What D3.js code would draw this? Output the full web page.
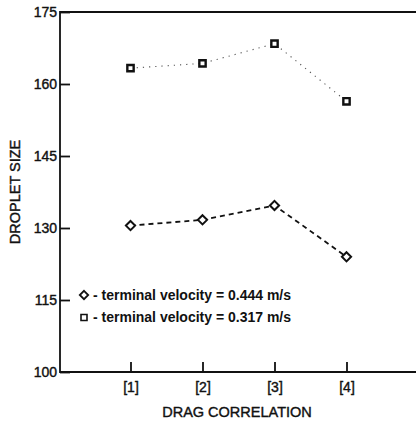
<!DOCTYPE html>
<html><head><meta charset="utf-8">
<script src="https://cdn.jsdelivr.net/npm/d3@7"></script>
<style>
body{margin:0;background:#fff;}
text{font-family:"Liberation Sans",Arial,Helvetica,sans-serif;fill:#111;}
text.heavy{stroke:#111;stroke-width:0.4px;}
</style></head>
<body><svg id="c" width="416" height="425"></svg>
<script>
const categories = [1, 2, 3, 4];
const categoryLabels = ["[1]", "[2]", "[3]", "[4]"];
const series444 = [130.5, 131.7, 134.7, 124.0];  // diamonds, terminal velocity 0.444 m/s
const series317 = [163.3, 164.3, 168.4, 156.4];  // squares, terminal velocity 0.317 m/s
const yTicks = [100, 115, 130, 145, 160, 175];
const legendLabels = ["- terminal velocity = 0.444 m/s", "- terminal velocity = 0.317 m/s"];
const xTitle = "DRAG CORRELATION";
const yTitle = "DROPLET SIZE";

const svg = d3.select("#c");
const mLeft = 60, mTop = 12, mBottom = 372, mRight = 416;
const x = d3.scaleLinear().domain([0, 5]).range([58.5, 418.5]);
const y = d3.scaleLinear().domain([100, 175]).range([mBottom, mTop]);

// frame
svg.append("path")
  .attr("d", `M${mRight},${mTop}H${mLeft}V${mBottom}H${mRight}`)
  .attr("fill", "none").attr("stroke", "#111").attr("stroke-width", 1.8);

// y axis
const yAxis = svg.append("g").attr("transform", `translate(${mLeft},0)`)
  .call(d3.axisLeft(y).tickValues(yTicks).tickSizeInner(-10).tickSizeOuter(0).tickPadding(3).tickFormat(d3.format("d")));
yAxis.select(".domain").remove();
yAxis.selectAll("line").attr("stroke", "#111").attr("stroke-width", 1.8);
yAxis.selectAll("text").attr("class", "heavy").attr("font-size", 14).attr("fill", "#111").attr("font-family", null);

// x axis
const xAxis = svg.append("g").attr("transform", `translate(0,${mBottom})`)
  .call(d3.axisBottom(x).tickValues(categories).tickSizeInner(-10).tickSizeOuter(0).tickPadding(10)
    .tickFormat((d, i) => categoryLabels[i]));
xAxis.select(".domain").remove();
xAxis.selectAll("line").attr("stroke", "#111").attr("stroke-width", 1.8);
xAxis.selectAll("text").attr("class", "heavy").attr("font-size", 14).attr("fill", "#111").attr("font-family", null);

// titles
svg.append("text").attr("class", "heavy").attr("x", 237).attr("y", 417).attr("text-anchor", "middle")
  .attr("font-size", 14.5).text(xTitle);
svg.append("text").attr("class", "heavy").attr("transform", "translate(20,192) rotate(-90)").attr("text-anchor", "middle")
  .attr("font-size", 14.5).text(yTitle);

const line = d3.line().x((d, i) => x(categories[i])).y(d => y(d));

// squares series (dotted)
svg.append("path").datum(series317).attr("d", line)
  .attr("fill", "none").attr("stroke", "#555").attr("stroke-width", 1.1).attr("stroke-dasharray", "1.2,5");
// diamonds series (dashed)
svg.append("path").datum(series444).attr("d", line)
  .attr("fill", "none").attr("stroke", "#111").attr("stroke-width", 1.8).attr("stroke-dasharray", "5,4");

const sq = d3.symbol().type(d3.symbolSquare).size(40);
const dm = (cx, cy, r) => `M${cx},${cy - r}L${cx + r},${cy}L${cx},${cy + r}L${cx - r},${cy}Z`;

svg.append("g").selectAll("path").data(series317).join("path")
  .attr("transform", (d, i) => `translate(${x(categories[i])},${y(d)})`)
  .attr("d", sq).attr("fill", "#fff").attr("stroke", "#111").attr("stroke-width", 2.4);

svg.append("g").selectAll("path").data(series444).join("path")
  .attr("d", (d, i) => dm(x(categories[i]), y(d), 4.6))
  .attr("fill", "#fff").attr("stroke", "#111").attr("stroke-width", 2);

// legend
const lx = 84, ly = [295, 317.5];
svg.append("path").attr("d", dm(lx, ly[0], 4.2)).attr("fill", "#fff").attr("stroke", "#111").attr("stroke-width", 1.8);
svg.append("path").attr("transform", `translate(${lx},${ly[1]})`).attr("d", d3.symbol().type(d3.symbolSquare).size(36))
  .attr("fill", "#fff").attr("stroke", "#111").attr("stroke-width", 1.6);
legendLabels.forEach((t, i) => {
  svg.append("text").attr("x", 93).attr("y", ly[i] + 4.5).attr("font-size", 14).attr("font-weight", "bold").text(t);
});
</script></body></html>
